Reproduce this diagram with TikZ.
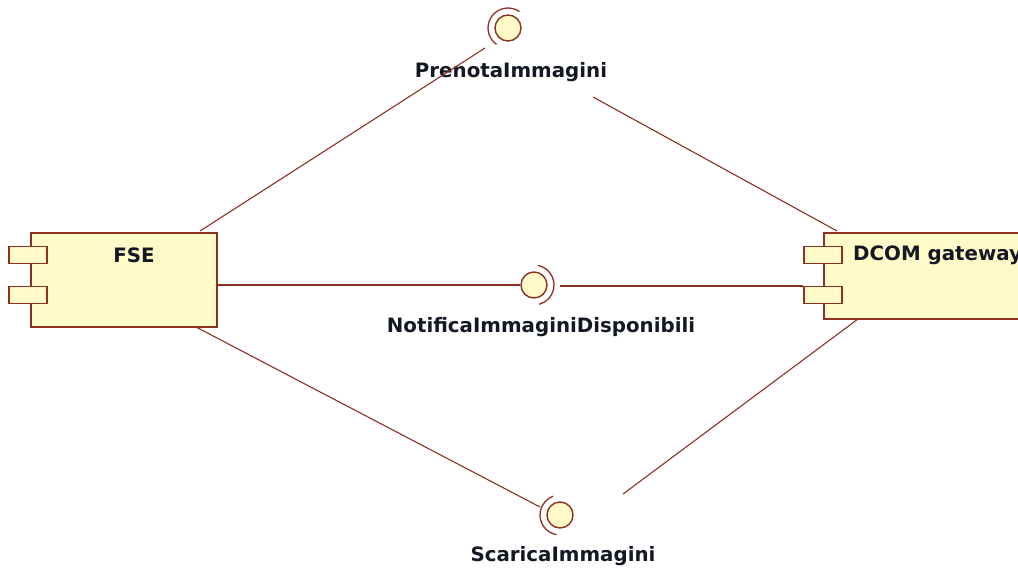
\documentclass[tikz,border=0pt]{standalone}
\usepackage{fontspec}
\setmainfont{DejaVu Sans}
\definecolor{edge}{RGB}{140,48,36}
\definecolor{pale}{RGB}{255,250,200}
\definecolor{ink}{RGB}{20,24,36}
\begin{document}
\begin{tikzpicture}[x=1pt,y=-1pt,
  comp/.style={draw=edge,fill=pale,line width=1.5pt,rectangle,inner sep=0pt,anchor=north west},
  port/.style={draw=edge,fill=pale,line width=1.5pt,rectangle,inner sep=0pt,minimum width=38pt,minimum height=17pt},
  ball/.style={draw=edge,fill=pale,line width=1.4pt,circle,inner sep=0pt,minimum size=26pt},
  wire/.style={draw=edge,line width=1.1pt},
  sock/.style={draw=edge,line width=1.3pt},
  lbl/.style={font=\bfseries\fontsize{19.8}{22}\selectfont,inner sep=0pt,text=ink}]
\useasboundingbox (0,0) rectangle (1018,571);
\begin{scope}
\clip (0,0) rectangle (1018,571);
% FSE component
\node[comp,minimum width=186pt,minimum height=94pt] (fse) at (30,232) {};
\node[port] (fsep1) at (28,255) {};
\node[port] (fsep2) at (28,295) {};
\node[lbl] (fset) at (134,255) {FSE};
% DCOM component
\node[comp,minimum width=220pt,minimum height=86pt] (dcom) at (823,232) {};
\node[port] (dcomp1) at (823,255) {};
\node[port] (dcomp2) at (823,295) {};
\node[lbl,anchor=west] (dcomt) at (853,255) {DCOM gateway};
\end{scope}
% interfaces
\node[ball] (itop) at (508,28) {};
\node[ball] (imid) at (534,285) {};
\node[ball] (ibot) at (560,515) {};
\draw[sock] (itop.center) ++(125:20) arc[start angle=125,end angle=305,radius=20];
\draw[sock] (imid.center) ++(-78:20) arc[start angle=-78,end angle=75,radius=20];
\draw[sock] (ibot.center) ++(100:20) arc[start angle=100,end angle=250,radius=20];
\node[lbl] (ltop) at (511,72) {PrenotaImmagini};
\node[lbl] (lmid) at (541,327) {NotificaImmaginiDisponibili};
\node[lbl] (lbot) at (563,556) {ScaricaImmagini};
% connectors
\coordinate (a1) at (200,231);
\coordinate (a2) at (485,48);
\coordinate (b1) at (837,231);
\coordinate (b2) at (593,97);
\coordinate (c1) at (196,327);
\coordinate (c2) at (540,507);
\coordinate (d1) at (858,319);
\coordinate (d2) at (623,494);
\coordinate (m2) at (560,286);
\draw[wire] (a1) -- (a2);
\draw[wire] (b1) -- (b2);
\draw[wire] (c1) -- (c2);
\draw[wire] (d1) -- (d2);
\draw[wire] (fse.east |- imid) -- (imid.west);
\draw[wire] (m2) -- (m2 -| dcomp2.west);
\end{tikzpicture}
\end{document}
